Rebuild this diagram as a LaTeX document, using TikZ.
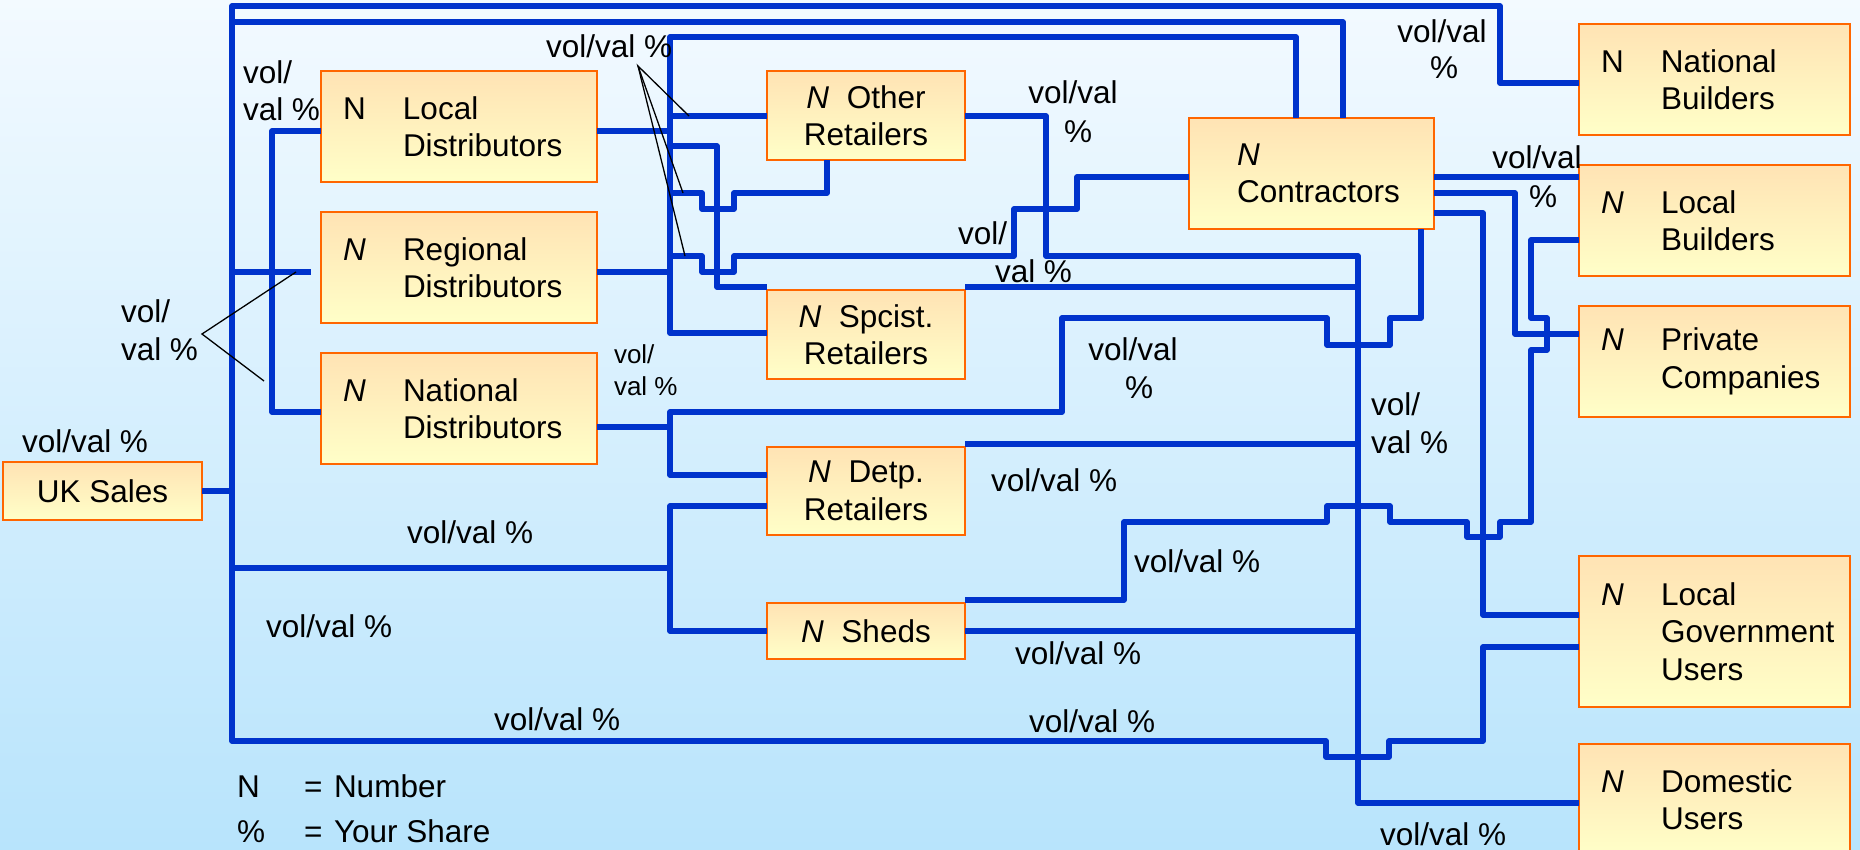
\documentclass[tikz,border=0pt]{standalone}
\usepackage{fontspec}
\setmainfont{Liberation Sans}
\definecolor{wire}{RGB}{0,51,204}
\definecolor{boxline}{RGB}{255,102,0}
\definecolor{boxtop}{RGB}{255,227,180}
\definecolor{boxbot}{RGB}{255,255,200}
\definecolor{bgtop}{RGB}{243,250,255}
\definecolor{bgbot}{RGB}{184,228,252}
\newcommand{\tcol}[3]{\noindent\makebox[60pt][l]{#1}\mbox{#2}\\\hspace*{60pt}\mbox{#3}}
\newcommand{\tcolthree}[4]{\noindent\makebox[60pt][l]{#1}\mbox{#2}\\\hspace*{60pt}\mbox{#3}\\\hspace*{60pt}\mbox{#4}}
\begin{document}
\begin{tikzpicture}[x=1pt,y=-1pt,
  every node/.style={font=\fontsize{31.5}{37.5}\selectfont, inner sep=0pt, outer sep=0pt},
  wire/.style={draw=wire, line width=5.5pt, line join=round},
  callout/.style={draw=black, line width=1.3pt},
  box/.style={draw=boxline, line width=1.8pt, top color=boxtop, bottom color=boxbot, anchor=north west, inner ysep=0pt},
  lbox/.style={box, minimum width=276pt, minimum height=111pt, text width=232pt, inner xsep=22pt, align=left},
  rbox/.style={box, minimum width=271pt, minimum height=111pt, text width=227pt, inner xsep=22pt, align=left},
  cbox/.style={box, minimum width=198pt, align=center},
  lbl/.style={anchor=base west},
  clbl/.style={anchor=base},
  small/.style={anchor=base west, font=\fontsize{26}{32}\selectfont}]
\useasboundingbox (0,0) rectangle (1860,849);
\clip (0,0) rectangle (1860,849);
\shade[top color=bgtop, bottom color=bgbot] (0,0) rectangle (1860,849);

% boxes
\node[box, minimum width=199pt, minimum height=58pt, align=center] (uk) at (3,462) {UK Sales};
\node[lbox] (ld) at (321,71) {\tcol{N}{Local}{Distributors}};
\node[lbox] (rd) at (321,212) {\tcol{\textit{N}}{Regional}{Distributors}};
\node[lbox] (nd) at (321,353) {\tcol{\textit{N}}{National}{Distributors}};
\node[cbox, minimum height=89pt] (ot) at (767,71) {\textit{N}~~Other\\Retailers};
\node[cbox, minimum height=89pt] (sp) at (767,290) {\textit{N}~~Spcist.\\Retailers};
\node[cbox, minimum height=88pt] (dp) at (767,447) {\textit{N}~~Detp.\\Retailers};
\node[cbox, minimum height=56pt] (sh) at (767,603) {\textit{N}~~Sheds};
\node[box, minimum width=245pt, minimum height=111pt, text width=149pt, inner xsep=48pt, align=left] (co) at (1189,118) {\noindent\textit{N}\\\mbox{Contractors}};
\node[rbox] (nb) at (1579,24) {\tcol{N}{National}{Builders}};
\node[rbox] (lb) at (1579,165) {\tcol{\textit{N}}{Local}{Builders}};
\node[rbox] (pc) at (1579,306) {\tcol{\textit{N}}{Private}{Companies}};
\node[rbox, minimum height=151pt] (lg) at (1579,556) {\tcolthree{\textit{N}}{Local}{Government}{Users}};
\node[rbox] (du) at (1579,744) {\tcol{\textit{N}}{Domestic}{Users}};

% connectors
\draw[wire] (nb.west |- 0,83) -- (1500,83) -- (1500,6) -- (232,6) -- (232,741) -- (1326,741) -- (1326,757) -- (1389,757) -- (1389,741) -- (1483,741) -- (1483,647) -- (lg.west |- 0,647);
\draw[wire] (232,22) -- (1343,22) -- (co.north -| 1343,0);
\draw[wire] (uk.east |- 0,491) -- (232,491);
\draw[wire] (232,272) -- (311,272);
\draw[wire] (ld.west |- 0,131) -- (272,131) -- (272,412) -- (nd.west |- 0,412);
\draw[wire] (ld.east |- 0,131) -- (670,131);
\draw[wire] (rd.east |- 0,272) -- (670,272);
\draw[wire] (co.north -| 1296,0) -- (1296,37) -- (670,37) -- (670,333) -- (sp.west |- 0,333);
\draw[wire] (670,116) -- (ot.west |- 0,116);
\draw[wire] (670,146) -- (717,146) -- (717,287) -- (sp.west |- 0,287);
\draw[wire] (670,193) -- (702,193) -- (702,209) -- (734,209) -- (734,193) -- (827,193) -- (ot.south -| 827,0);
\draw[wire] (670,256) -- (702,256) -- (702,272) -- (734,272) -- (734,256) -- (1014,256) -- (1014,209) -- (1077,209) -- (1077,177) -- (co.west |- 0,177);
\draw[wire] (ot.east |- 0,116) -- (1046,116) -- (1046,256) -- (1358,256) -- (1358,803) -- (du.west |- 0,803);
\draw[wire] (sp.east |- 0,287) -- (1358,287);
\draw[wire] (nd.east |- 0,427) -- (670,427);
\draw[wire] (dp.west |- 0,475) -- (670,475) -- (670,412) -- (1062,412) -- (1062,318) -- (1327,318) -- (1327,345) -- (1390,345) -- (1390,318) -- (1421,318) -- (co.south -| 1421,0);
\draw[wire] (dp.east |- 0,444) -- (1358,444);
\draw[wire] (232,568) -- (670,568);
\draw[wire] (dp.west |- 0,506) -- (670,506) -- (670,631) -- (sh.west |- 0,631);
\draw[wire] (sh.east |- 0,631) -- (1358,631);
\draw[wire] (sh.east |- 0,600) -- (1124,600) -- (1124,522) -- (1327,522) -- (1327,506) -- (1390,506) -- (1390,522) -- (1467,522) -- (1467,537) -- (1500,537) -- (1500,522) -- (1531,522) -- (1531,350) -- (1547,350) -- (1547,318) -- (1531,318) -- (1531,240) -- (lb.west |- 0,240);
\draw[wire] (co.east |- 0,177) -- (lb.west |- 0,177);
\draw[wire] (co.east |- 0,193) -- (1515,193) -- (1515,334) -- (pc.west |- 0,334);
\draw[wire] (co.east |- 0,213) -- (1483,213) -- (1483,615) -- (lg.west |- 0,615);

% callouts
\coordinate (ca) at (638,66);
\coordinate (ca1) at (689,116);
\coordinate (ca2) at (683,193);
\coordinate (ca3) at (685,256);
\draw[callout] (ca1) -- (ca) -- (ca2);
\draw[callout] (ca) -- (ca3);
\coordinate (cb) at (202,334);
\coordinate (cb1) at (296,272);
\coordinate (cb2) at (264,381);
\draw[callout] (cb1) -- (cb) -- (cb2);

% labels
\node[lbl] (l1) at (22,452) {vol/val \%};
\node[lbl] (l2a) at (243,83) {vol/};
\node[lbl] (l2b) at (243,120) {val \%};
\node[lbl] (l3a) at (121,322) {vol/};
\node[lbl] (l3b) at (121,360) {val \%};
\node[lbl] (l4) at (546,57) {vol/val \%};
\node[clbl] (l5a) at (1073,103) {vol/val};
\node[clbl] (l5b) at (1078,142) {\%};
\node[lbl] (l6a) at (958,244) {vol/};
\node[lbl] (l6b) at (995,282) {val \%};
\node[small] (l7a) at (614,363) {vol/};
\node[small] (l7b) at (614,395) {val \%};
\node[clbl] (l8a) at (1133,360) {vol/val};
\node[clbl] (l8b) at (1139,398) {\%};
\node[clbl] (l9a) at (1442,42) {vol/val};
\node[clbl] (l9b) at (1444,78) {\%};
\node[clbl] (l10a) at (1537,168) {vol/val};
\node[clbl] (l10b) at (1543,207) {\%};
\node[lbl] (l11a) at (1371,415) {vol/};
\node[lbl] (l11b) at (1371,453) {val \%};
\node[lbl] (l12) at (991,491) {vol/val \%};
\node[lbl] (l13) at (1134,572) {vol/val \%};
\node[lbl] (l14) at (1015,664) {vol/val \%};
\node[lbl] (l15) at (1029,732) {vol/val \%};
\node[lbl] (l16) at (266,637) {vol/val \%};
\node[lbl] (l17) at (407,543) {vol/val \%};
\node[lbl] (l18) at (494,730) {vol/val \%};
\node[lbl] (l19) at (1380,845) {vol/val \%};

% legend
\node[lbl] (k1) at (237,797) {N};
\node[lbl] (k2) at (304,797) {=};
\node[lbl] (k3) at (334,797) {Number};
\node[lbl] (k4) at (237,842) {\%};
\node[lbl] (k5) at (304,842) {=};
\node[lbl] (k6) at (334,842) {Your Share};
\end{tikzpicture}
\end{document}
